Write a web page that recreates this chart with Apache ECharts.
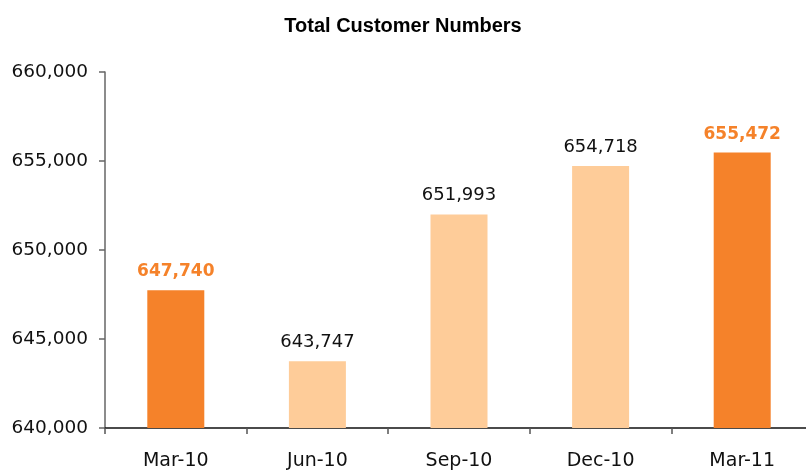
<!DOCTYPE html>
<html>
<head>
<meta charset="utf-8">
<script src="https://cdn.jsdelivr.net/npm/echarts@6/dist/echarts.min.js"></script>
<style>
  html, body { margin: 0; padding: 0; background: #fff; }
  #main { width: 806px; height: 470px; }
</style>
</head>
<body>
<div id="main"></div>
<script>
// 季度
const categories = ['Mar-10', 'Jun-10', 'Sep-10', 'Dec-10', 'Mar-11'];
// 客户总数
const customers = [647740, 643747, 651993, 654718, 655472];
// 需要突出显示的季度
const highlighted = ['Mar-10', 'Mar-11'];
// 纵轴范围
const yMin = 640000;
const yMax = 660000;
const yStep = 5000;

const darkOrange = '#F5822A';
const lightOrange = '#FECC99';

var myChart = echarts.init(document.getElementById('main'));

let option = {
  animation: false,
  title: {
    text: 'Total Customer Numbers',
    left: 'center',
    top: 11,
    textStyle: {
      fontFamily: 'Liberation Sans',
      fontSize: 20,
      fontWeight: 'bold',
      color: '#000'
    }
  },
  // 右侧超出画布一点，和原图一样被裁掉
  grid: {
    left: 105,
    top: 72,
    width: 708,
    height: 356,
    containLabel: false,
    outerBoundsMode: 'none'
  },
  xAxis: {
    type: 'category',
    data: categories,
    axisLine: { lineStyle: { color: '#111', width: 1.5 } },
    axisTick: { show: true, length: 6, lineStyle: { color: '#555', width: 1.5 } },
    axisLabel: {
      margin: 24,
      fontFamily: 'DejaVu Sans',
      fontSize: 19,
      color: '#111'
    }
  },
  yAxis: {
    type: 'value',
    min: yMin,
    max: yMax,
    interval: yStep,
    splitLine: { show: false },
    axisLine: { show: true, lineStyle: { color: '#666', width: 1.5 } },
    axisTick: { show: true, length: 6, lineStyle: { color: '#666', width: 1.5 } },
    axisLabel: {
      margin: 17,
      fontFamily: 'DejaVu Sans',
      fontSize: 18.5,
      color: '#111',
      formatter: v => v.toLocaleString('en-US')
    }
  },
  series: [{
    type: 'bar',
    barWidth: 57,
    data: customers.map((v, i) => {
      const hot = highlighted.includes(categories[i]);
      return {
        value: v,
        itemStyle: { color: hot ? darkOrange : lightOrange },
        label: hot
          ? { color: darkOrange, fontWeight: 'bold', fontSize: 17 }
          : { color: '#111', fontWeight: 'normal', fontSize: 18 }
      };
    }),
    label: {
      show: true,
      position: 'top',
      distance: 10,
      fontFamily: 'DejaVu Sans',
      formatter: p => p.value.toLocaleString('en-US')
    }
  }]
};

myChart.setOption(option);
</script>
</body>
</html>
